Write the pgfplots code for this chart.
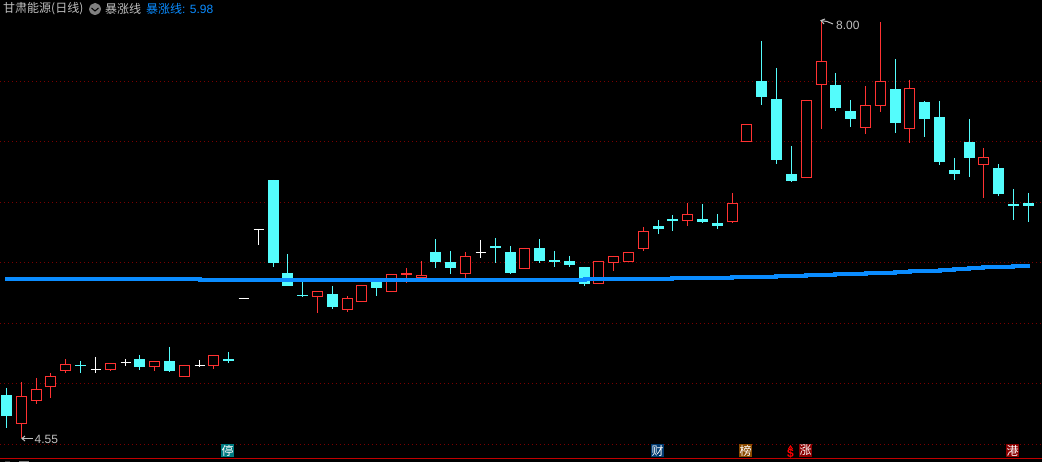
\documentclass[border=0pt]{standalone}
\usepackage{fontspec}
\setmainfont{Liberation Sans}
\newfontfamily\cjk{Noto Sans CJK SC}
\usepackage{pgfplots}
\pgfplotsset{compat=1.18}

\definecolor{upred}{HTML}{FF3232}
\definecolor{dncyan}{HTML}{54FCFC}
\definecolor{gridred}{HTML}{7A0000}
\definecolor{lineblue}{HTML}{0A8CFF}
\definecolor{txtgray}{HTML}{C0C0C0}
\definecolor{tagteal}{HTML}{007A80}
\definecolor{tagnavy}{HTML}{003A70}
\definecolor{tagbrown}{HTML}{8A4A00}
\definecolor{tagred}{HTML}{8B0000}

% x, body top, body bottom, high, low -- all read in picture pixels, y down
\newcommand{\dn}[5]{%
  \pgfmathsetmacro\xl{#1-5.5}\pgfmathsetmacro\xr{#1+5.5}%
  \addplot[dncyan,line width=1pt] coordinates {(#1,#4) (#1,#5)};
  \addplot[fill=dncyan,draw=none] coordinates {(\xl,#2) (\xr,#2) (\xr,#3) (\xl,#3)} -- cycle;
}
\newcommand{\up}[5]{%
  \pgfmathsetmacro\xl{#1-5}\pgfmathsetmacro\xr{#1+5}%
  \addplot[upred,line width=1pt] coordinates {(#1,#4) (#1,#5)};
  \addplot[fill=black,draw=upred,line width=1pt] coordinates {(\xl,#2) (\xr,#2) (\xr,#3) (\xl,#3)} -- cycle;
}
% flat candle: x, close, high, low
\newcommand{\wht}[4]{%
  \pgfmathsetmacro\xl{#1-5}\pgfmathsetmacro\xr{#1+5}%
  \addplot[white,line width=1pt] coordinates {(#1,#3) (#1,#4)};
  \addplot[white,line width=1pt] coordinates {(\xl,#2) (\xr,#2)};
}
\newcommand{\tag}[3]{% x left, colour, text
  \pgfmathsetmacro\xr{#1+13}%
  \addplot[fill=#2,draw=none] coordinates {(#1,444) (\xr,444) (\xr,457) (#1,457)} -- cycle;
  \node[white,font=\cjk\fontsize{12}{12}\selectfont,inner sep=0pt] at (axis cs:#1+6.5,450.5) {#3};
}

\begin{document}
\begin{tikzpicture}
\begin{axis}[
    scale only axis,
    width=1042pt,
    height=462pt,
    xmin=0, xmax=1042,
    ymin=0, ymax=462,
    y dir=reverse,
    ticks=none,
    axis line style={draw=none},
    axis background/.style={fill=black},
    every axis plot/.append style={mark=none},
]
% grid
\addplot[gridred,line width=1pt,dash pattern=on 1pt off 3pt] coordinates {(0,81.3) (1042,81.3)};
\addplot[gridred,line width=1pt,dash pattern=on 1pt off 3pt] coordinates {(0,141.3) (1042,141.3)};
\addplot[gridred,line width=1pt,dash pattern=on 1pt off 3pt] coordinates {(0,202.3) (1042,202.3)};
\addplot[gridred,line width=1pt,dash pattern=on 1pt off 3pt] coordinates {(0,262.3) (1042,262.3)};
\addplot[gridred,line width=1pt,dash pattern=on 1pt off 3pt] coordinates {(0,323.3) (1042,323.3)};
\addplot[gridred,line width=1pt,dash pattern=on 1pt off 3pt] coordinates {(0,383.3) (1042,383.3)};
\addplot[gridred,line width=1pt,dash pattern=on 1pt off 3pt] coordinates {(0,444.3) (1042,444.3)};
\addplot[color={rgb,255:red,192;green,0;blue,0},line width=1pt] coordinates {(0,458.5) (1042,458.5)};
\addplot[fill=gray,draw=none] coordinates {(19,460.5) (29,460.5) (29,462) (19,462)} -- cycle;
\addplot[fill=darkgray,draw=none] coordinates {(5,461) (10,461) (10,462) (5,462)} -- cycle;

% candles
\dn{6.5}{395}{416}{388}{428}
\up{21.5}{396.5}{423}{382}{438}
\up{36.5}{389.5}{400}{378}{404}
\up{50.5}{376.5}{387}{373}{398}
\up{65.5}{364.5}{371}{359}{373}
\dn{80.5}{365}{366.5}{361}{373}
\wht{95.5}{369.5}{357}{373}
\up{110.5}{363.5}{369.5}{363}{371}
\wht{125.5}{362.5}{359}{366}
\dn{139.5}{359}{367}{355}{370}
\up{154.5}{361.5}{366.5}{361}{371}
\dn{169.5}{361}{371}{347}{372}
\up{184.5}{365.5}{376.5}{365}{377}
\wht{199.5}{365.5}{360}{367}
\up{213.5}{355.5}{365.5}{355}{369}
\dn{228.5}{359}{361}{352}{363}
\wht{243.5}{298.5}{298}{299}
\wht{258.5}{229.5}{229}{245}
\dn{273.5}{180}{263}{180}{267}
\dn{287.5}{273}{286}{254}{286}
\dn{302.5}{295}{296.5}{280}{297}
\up{317.5}{291.5}{296.5}{291}{313}
\dn{332.5}{294}{307}{286}{309}
\up{347.5}{298.5}{309.5}{296}{312}
\up{361.5}{285.5}{301.5}{285}{302}
\dn{376.5}{280}{288}{280}{296}
\up{391.5}{274.5}{291.5}{274}{292}
\up{406.5}{273.5}{274.5}{268}{283}
\up{421.5}{275.5}{277.5}{261}{278}
\dn{435.5}{252}{262}{239}{268}
\dn{450.5}{262}{268}{251}{274}
\up{465.5}{256.5}{273.5}{252}{278}
\wht{480.5}{252.5}{240}{258}
\dn{495.5}{246}{248}{238}{263}
\dn{510.5}{252}{273}{246}{274}
\up{524.5}{248.5}{268.5}{248}{269}
\dn{539.5}{248}{261}{239}{263}
\dn{554.5}{260}{262}{251}{267}
\dn{569.5}{261}{265}{256}{267}
\dn{584.5}{267}{284}{267}{286}
\up{598.5}{261.5}{283.5}{261}{284}
\up{613.5}{256.5}{262.5}{256}{271}
\up{628.5}{252.5}{261.5}{252}{262}
\up{643.5}{231.5}{248.5}{227}{251}
\dn{658.5}{226}{229}{220}{234}
\dn{672.5}{219}{221}{215}{231}
\up{687.5}{214.5}{220.5}{203}{226}
\dn{702.5}{219}{222}{204}{223}
\dn{717.5}{223}{226}{214}{229}
\up{732.5}{203.5}{221.5}{193}{223}
\up{746.5}{124.5}{141.5}{124}{142}
\dn{761.5}{81}{97}{41}{105}
\dn{776.5}{99}{160}{68}{164}
\dn{791.5}{174}{181}{146}{182}
\up{806.5}{100.5}{177.5}{100}{178}
\up{821.5}{61.5}{84.5}{20}{129}
\dn{835.5}{85}{108}{73}{111}
\dn{850.5}{111}{119}{100}{127}
\up{865.5}{105.5}{127.5}{86}{134}
\up{880.5}{81.5}{105.5}{22}{112}
\dn{895.5}{89}{123}{59}{133}
\up{909.5}{88.5}{128.5}{80}{143}
\dn{924.5}{102}{119}{101}{137}
\dn{939.5}{117}{162}{101}{165}
\dn{954.5}{170}{174}{158}{180}
\dn{969.5}{142}{158}{119}{177}
\up{983.5}{157.5}{164.5}{148}{198}
\dn{998.5}{168}{194}{164}{196}
\dn{1013.5}{204}{206}{189}{220}
\dn{1028.5}{203}{206}{193}{222}

% 暴涨线
\addplot[lineblue,line width=4pt] coordinates {
  (5,279.5) (200,279.5) (200,280.5) (585,280.5) (585,279.5) (672,279.5) (672,278.5) (732,278.5)
  (732,277.5) (776,277.5) (776,276) (806,276) (806,275) (835,275) (835,274) (866,274) (866,273)
  (895,273) (895,272) (910,272) (910,271) (940,271) (940,270) (954,270) (954,269) (969,269)
  (969,268) (983,268) (983,267) (1013,267) (1013,266) (1030,266)};

% high / low marks
\addplot[txtgray,line width=1pt] coordinates {(22,438.5) (33,438.5)};
\addplot[txtgray,line width=1pt] coordinates {(25,436) (22,438.5) (25,441)};
\addplot[txtgray,line width=1pt] coordinates {(821,20.5) (827,21.5) (833,24)};
\addplot[txtgray,line width=1pt] coordinates {(825,19) (821,20.5) (824,24)};
\node[txtgray,anchor=west,inner sep=0pt,font=\fontsize{12}{12}\selectfont] at (axis cs:34.5,439.5) {4.55};
\node[txtgray,anchor=west,inner sep=0pt,font=\fontsize{12}{12}\selectfont] at (axis cs:836,25.5) {8.00};

% header
\node[txtgray,anchor=west,inner sep=0pt,font=\fontsize{12}{12}\selectfont] at (axis cs:3,9) {\cjk 甘肃能源(日线)};
\addplot[fill=gray,draw=none,smooth] coordinates {(95,3) (99.2,4.8) (101,9) (99.2,13.2) (95,15) (90.8,13.2) (89,9) (90.8,4.8)} -- cycle;
\addplot[black,line width=1pt] coordinates {(91.5,8) (95,11) (98.5,8)};
\node[txtgray,anchor=west,inner sep=0pt,font=\fontsize{12}{12}\selectfont] at (axis cs:105,9) {\cjk 暴涨线};
\node[lineblue,anchor=west,inner sep=0pt,font=\fontsize{12}{12}\selectfont] at (axis cs:146,9) {{\cjk 暴涨线}: 5.98};

% event tags
\tag{221}{tagteal}{停}
\tag{651}{tagnavy}{财}
\tag{739}{tagbrown}{榜}
\tag{799}{tagred}{涨}
\tag{1006}{tagred}{港}
\addplot[red,line width=1pt] coordinates {(788.5,449) (790.5,446) (792.5,449)};
\node[red,inner sep=0pt,font=\bfseries\fontsize{12}{12}\selectfont] at (axis cs:790.5,453) {\$};
\end{axis}
\end{tikzpicture}
\end{document}
